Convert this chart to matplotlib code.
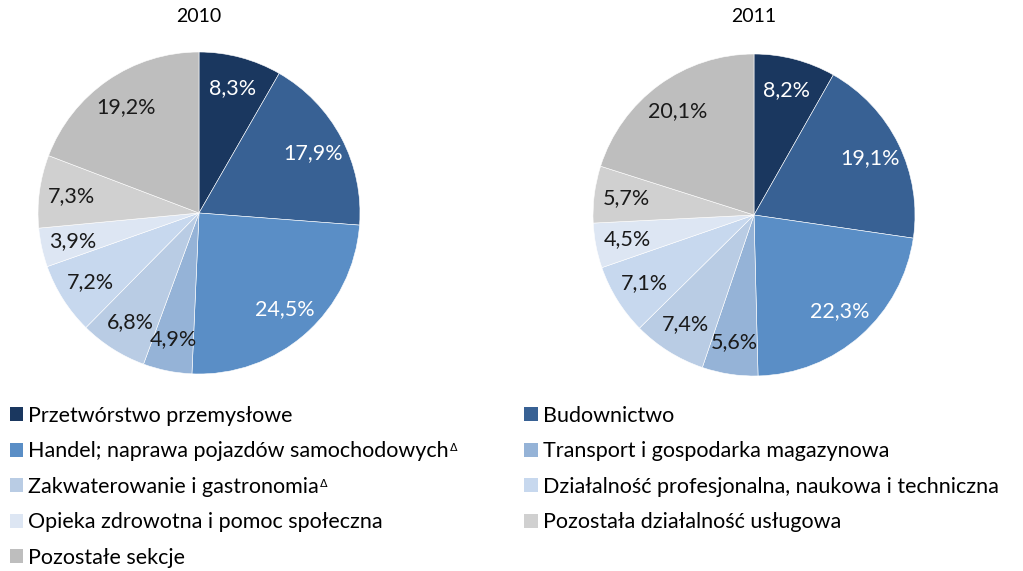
import matplotlib.pyplot as plt
from matplotlib.patches import Patch

plt.rcParams['font.family'] = ['Lato', 'DejaVu Sans']

years = ['2010', '2011']
categories = [
    'Przetwórstwo przemysłowe',
    'Budownictwo',
    'Handel; naprawa pojazdów samochodowych',
    'Transport i gospodarka magazynowa',
    'Zakwaterowanie i gastronomia',
    'Działalność profesjonalna, naukowa i techniczna',
    'Opieka zdrowotna i pomoc społeczna',
    'Pozostała działalność usługowa',
    'Pozostałe sekcje',
]
# categories that carry a superscript delta mark
flagged = [2, 4]
values_2010 = [8.3, 17.9, 24.5, 4.9, 6.8, 7.2, 3.9, 7.3, 19.2]
values_2011 = [8.2, 19.1, 22.3, 5.6, 7.4, 7.1, 4.5, 5.7, 20.1]

colors = ['#1a375f', '#386194', '#5a8ec6', '#95b3d7', '#b9cce4',
          '#c7d8ee', '#dde6f3', '#d0d0d0', '#bebebe']
text_colors = ['white', 'white', 'white', '#1a1a1a', '#1a1a1a',
               '#1a1a1a', '#1a1a1a', '#1a1a1a', '#1a1a1a']

W, H = 1023, 571
fig = plt.figure(figsize=(W / 100, H / 100), dpi=100)

# pie centres / radius in pixels
centres = [(199, 213), (754, 215)]
radius = 161

for year, vals, (cx, cy) in zip(years, [values_2010, values_2011], centres):
    ax = fig.add_axes([(cx - radius) / W, (H - cy - radius) / H,
                       2 * radius / W, 2 * radius / H])
    wedges, texts, autotexts = ax.pie(
        vals, colors=colors, startangle=90, counterclock=False,
        autopct=lambda p: f'{p:.1f}%'.replace('.', ','), pctdistance=0.8,
        wedgeprops=dict(edgecolor='white', linewidth=0.4))
    for t, c in zip(autotexts, text_colors):
        t.set_color(c)
        t.set_fontsize(15.5)
    ax.set_xlim(-1, 1)
    ax.set_ylim(-1, 1)
    ax.set_aspect('equal')
    fig.text(cx / W, 1 - 17 / H, year, ha='center', va='center', fontsize=14)

handles = [Patch(facecolor=c) for c in colors]
order = [0, 2, 4, 6, 8, 1, 3, 5, 7]
leg = fig.legend([handles[i] for i in order], [categories[i] for i in order],
                 ncol=2, loc='upper left', bbox_to_anchor=(-0.001, 0.308),
                 frameon=False, fontsize=15.5, handlelength=0.62,
                 handleheight=0.62, handletextpad=0.25, labelspacing=0.72,
                 columnspacing=3.5, borderpad=0)

# add the superscript deltas after the label text
fig.canvas.draw()
renderer = fig.canvas.get_renderer()
for t in leg.get_texts():
    if t.get_text() in [categories[i] for i in flagged]:
        bb = t.get_window_extent(renderer)
        fig.text((bb.x1 + 1) / W, (bb.y1 - 2) / H, 'Δ', fontsize=8,
                 ha='left', va='top', family='DejaVu Sans')

fig.savefig('out.png', dpi=100)
